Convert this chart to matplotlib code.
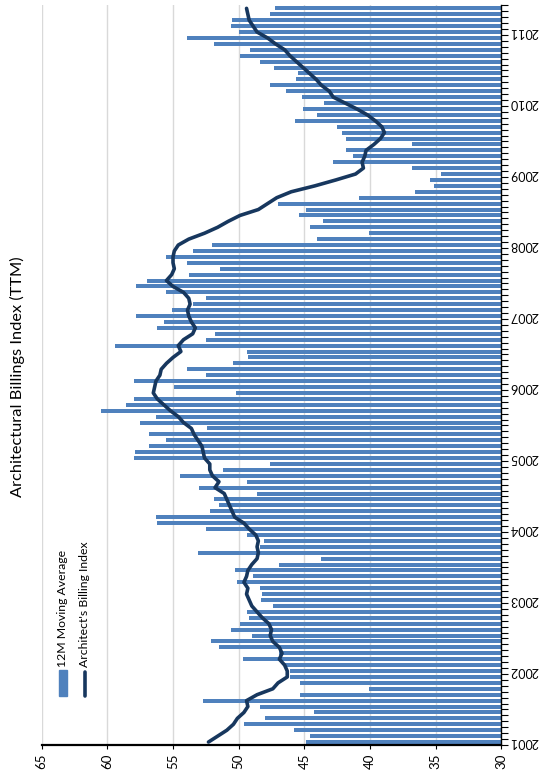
import numpy as np
import matplotlib.pyplot as plt
from matplotlib.patches import Rectangle
from matplotlib.lines import Line2D

plt.rcParams['font.family'] = ['Lato', 'DejaVu Sans']

# monthly values, Jan 2001 .. May 2011
years = list(range(2001, 2012))
bar_values = [
    44.9, 44.6, 45.8, 49.6, 48.0, 44.3, 48.4, 52.7, 45.3, 40.1, 45.3, 46.1,
    46.1, 46.5, 49.7, 46.9, 51.5, 52.1, 49.0, 50.6, 49.9, 49.2, 49.4, 47.4,
    48.3, 48.2, 48.4, 50.1, 48.9, 50.3, 46.9, 43.7, 53.1, 48.4, 48.1, 49.4,
    52.5, 56.2, 56.3, 52.2, 51.5, 51.9, 48.6, 53.0, 49.4, 54.5, 51.2, 47.6,
    58.0, 57.9, 56.8, 55.5, 56.8, 52.4, 57.5, 56.3, 60.5, 58.6, 58.0, 50.2,
    54.9, 58.0, 52.5, 53.9, 50.4, 49.3, 49.4, 59.4, 52.5, 51.8, 56.2, 55.7,
    57.8, 55.1, 53.5, 52.5, 55.5, 57.8, 57.0, 53.8, 51.4, 53.9, 55.5, 53.5,
    52.0, 44.0, 40.1, 44.6, 43.6, 45.4, 44.9, 47.0, 40.8, 36.6, 35.1, 35.4,
    34.6, 36.8, 42.8, 41.3, 41.8, 36.8, 41.8, 42.1, 42.5, 45.7, 44.0, 45.1,
    43.5, 45.2, 46.4, 47.6, 45.6, 45.5, 47.3, 48.4, 49.9, 49.1, 51.9, 53.9,
    50.0, 50.6, 50.5, 47.6, 47.2,
]
line_values = [
    52.3, 51.6, 50.9, 50.4, 50.1, 49.6, 49.3, 49.4, 48.6, 47.4, 47.0, 46.3,
    46.3, 46.5, 46.9, 46.7, 46.9, 47.4, 47.6, 47.5, 47.7, 48.2, 48.6, 49.0,
    49.2, 49.4, 49.3, 49.6, 49.4, 49.3, 49.0, 48.6, 48.5, 48.6, 48.5, 48.7,
    49.2, 49.6, 50.3, 50.5, 50.7, 50.9, 51.1, 51.8, 51.5, 52.0, 52.2, 52.2,
    52.6, 52.7, 52.8, 53.1, 53.4, 53.6, 54.2, 54.6, 55.2, 55.7, 56.2, 56.5,
    56.4, 56.3, 56.0, 55.9, 55.5, 55.0, 54.4, 54.6, 54.2, 53.5, 53.3, 53.6,
    53.8, 53.9, 53.7, 53.8, 54.2, 55.0, 55.5, 55.1, 54.9, 55.0, 55.0, 54.9,
    54.6, 53.8, 52.6, 51.6, 50.8, 49.9, 48.5, 47.8, 47.1, 46.0, 44.2, 42.6,
    41.1, 40.5, 40.6, 40.4, 40.3, 39.7, 39.2, 38.9, 39.1, 39.6, 40.2, 41.0,
    41.9, 42.8, 43.1, 43.7, 44.1, 44.6, 45.1, 45.6, 46.1, 46.5, 47.2, 47.8,
    48.6, 48.9, 49.2, 49.3, 49.4,
]
value_ticks = [65, 60, 55, 50, 45, 40, 35, 30]

bar_color = '#4F81BD'
line_color = '#17375E'

W, H = 539, 782
fig = plt.figure(figsize=(W / 100, H / 100), dpi=100)
ax = fig.add_axes([41.7 / W, 37 / H, 459.6 / W, 739.6 / H])

n = len(bar_values)
pos = np.arange(n)
base = 30
ax.barh(pos, np.array(bar_values) - base, left=base, height=0.68,
        color=bar_color, zorder=2)
ax.plot(line_values, pos, color=line_color, lw=2.6, zorder=3,
        solid_capstyle='round', solid_joinstyle='round')

ax.set_xlim(65, 30)
ax.set_ylim(-0.5, n - 0.5)

ax.set_xticks(value_ticks)
ax.set_xticklabels([str(v) for v in value_ticks], rotation=90, fontsize=9.5)
ax.grid(axis='x', color='#D9D9D9', lw=1, zorder=0)
ax.tick_params(axis='x', direction='out', length=3, width=0.8, pad=3)

ax.yaxis.tick_right()
ax.set_yticks([12 * k for k in range(len(years))])
ax.set_yticklabels([str(y) for y in years], rotation=180, fontsize=9,
                   va='center', ha='left')
ax.set_yticks(np.arange(-0.5, n, 1), minor=True)
ax.tick_params(axis='y', which='major', length=0, pad=6)
ax.tick_params(axis='y', which='minor', length=5, width=0.8, direction='out')

for side in ['top', 'left']:
    ax.spines[side].set_visible(False)
ax.spines['bottom'].set_linewidth(1.6)
ax.spines['right'].set_linewidth(1.0)

fig.text(17 / W, 1 - 377 / H, 'Architectural Billings Index (TTM)',
         rotation=90, ha='center', va='center', fontsize=11.8)

# legend, drawn by hand so it can be rotated like the rest of the chart
fig.add_artist(Rectangle((59 / W, 1 - 696 / H), 8 / W, 26 / H,
                         transform=fig.transFigure, color=bar_color))
fig.add_artist(Line2D([84.5 / W, 84.5 / W], [1 - 696 / H, 1 - 672 / H],
                      transform=fig.transFigure, color=line_color, lw=2.6,
                      solid_capstyle='round'))
fig.text(63 / W, 1 - 667 / H, '12M Moving Average', rotation=90,
         ha='center', va='bottom', fontsize=8.8)
fig.text(85 / W, 1 - 667 / H, "Architect's Billing Index", rotation=90,
         ha='center', va='bottom', fontsize=8.8)

fig.savefig('out.png', dpi=100)
